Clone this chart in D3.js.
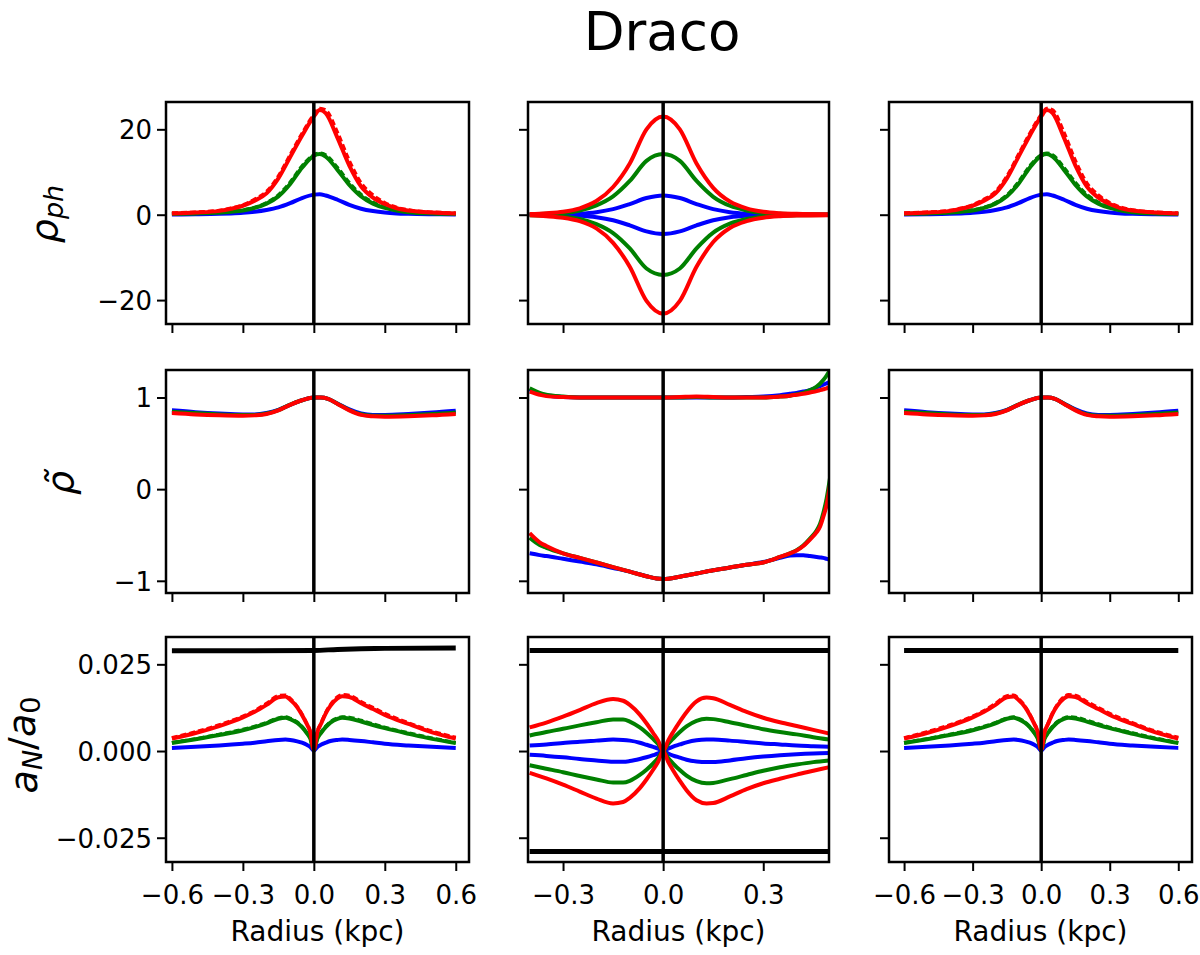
<!DOCTYPE html>
<html><head><meta charset="utf-8">
<script src="https://cdn.jsdelivr.net/npm/d3@7"></script>
<style>body{margin:0;background:#fff}svg{display:block}text{font-family:"DejaVu Sans",sans-serif;fill:#000}</style>
</head><body>
<svg id="c" width="1200" height="955"></svg>
<script>
// ---------------- DATA ----------------
const title = "Draco";
const xLabel = "Radius (kpc)";
const xTicksSide = [-0.6, -0.3, 0.0, 0.3, 0.6];
const xTicksMid = [-0.3, 0.0, 0.3];
const yTicksTop = [-20, 0, 20];
const yTicksMidRow = [-1, 0, 1];
const yTicksBot = [-0.025, 0.0, 0.025];

// Row 1 (rho_ph) side panels
const xTopSide = [-0.6,-0.5,-0.4,-0.35,-0.3,-0.25,-0.2,-0.15,-0.1,-0.05,0,0.025,0.05,0.1,0.15,0.2,0.25,0.3,0.35,0.4,0.5,0.6];
const topSideRed   = [0.3,0.5,0.9,1.4,2.1,3.3,5.0,8.5,13.5,18.5,23.0,24.5,23.8,18.0,11.5,6.6,4.0,2.5,1.5,1.0,0.5,0.3];
const topSideRedD  = [0.4,0.6,1.0,1.5,2.3,3.6,5.4,9.0,14.0,19.0,23.4,24.9,24.5,19.2,12.6,7.4,4.6,2.8,1.7,1.1,0.6,0.4];
const topSideGreen = [0.2,0.3,0.5,0.7,1.0,1.6,2.6,4.3,7.2,11.0,13.8,14.2,13.6,10.5,7.0,4.3,2.6,1.6,1.0,0.6,0.3,0.2];
const topSideGreenD= [0.2,0.3,0.5,0.8,1.1,1.7,2.8,4.6,7.6,11.4,14.0,14.4,14.0,11.0,7.5,4.7,2.9,1.8,1.1,0.7,0.35,0.2];
const topSideBlue  = [0.05,0.1,0.2,0.3,0.45,0.7,1.1,1.7,2.7,3.9,4.7,4.8,4.5,3.5,2.3,1.4,0.85,0.5,0.3,0.2,0.1,0.05];

// Row 1 middle panel
const xTopMid = [-0.4,-0.35,-0.3,-0.25,-0.2,-0.15,-0.1,-0.05,0,0.05,0.1,0.15,0.2,0.25,0.3,0.35,0.4,0.5];
const topMidRedUp   = [0.15,0.35,0.7,1.5,3.2,6.5,12.0,20.0,23.0,20.0,12.0,6.3,3.1,1.5,0.7,0.35,0.2,0.1];
const topMidGreenUp = [0.1,0.2,0.4,1.0,2.2,4.3,7.9,12.6,14.2,12.6,7.9,4.2,2.1,1.0,0.4,0.2,0.1,0.05];
const topMidBlueUp  = [0.02,0.05,0.1,0.25,0.6,1.3,2.5,3.9,4.5,3.9,2.5,1.3,0.6,0.25,0.1,0.05,0.02,0.01];
const topMidRedLo   = [-0.15,-0.35,-0.7,-1.5,-3.2,-6.6,-12.2,-20.2,-23.2,-20.2,-12.2,-6.4,-3.1,-1.5,-0.7,-0.35,-0.2,-0.1];
const topMidGreenLo = [-0.1,-0.2,-0.4,-1.0,-2.2,-4.3,-7.9,-12.6,-14.1,-12.6,-7.9,-4.2,-2.1,-1.0,-0.4,-0.2,-0.1,-0.05];
const topMidBlueLo  = [-0.02,-0.05,-0.1,-0.25,-0.6,-1.3,-2.5,-3.9,-4.5,-3.9,-2.5,-1.3,-0.6,-0.25,-0.1,-0.05,-0.02,-0.01];

// Row 2 (rho tilde) side panels
const xMidSide = [-0.6,-0.5,-0.4,-0.3,-0.25,-0.2,-0.15,-0.1,-0.05,0,0.03,0.06,0.1,0.15,0.2,0.25,0.3,0.4,0.5,0.6];
const midSideRed   = [0.83,0.815,0.805,0.80,0.805,0.82,0.86,0.92,0.97,1.0,1.0,0.985,0.93,0.86,0.81,0.795,0.79,0.795,0.805,0.82];
const midSideGreen = [0.845,0.83,0.815,0.808,0.81,0.825,0.862,0.922,0.97,1.0,1.0,0.985,0.932,0.864,0.817,0.802,0.80,0.807,0.82,0.835];
const midSideBlue  = [0.86,0.84,0.825,0.815,0.815,0.83,0.865,0.92,0.97,1.0,1.0,0.985,0.935,0.87,0.825,0.81,0.81,0.82,0.835,0.855];

// Row 2 middle panel
const xMidMid = [-0.4,-0.37,-0.35,-0.3,-0.25,-0.2,-0.15,-0.1,-0.05,-0.02,0,0.05,0.1,0.15,0.2,0.25,0.3,0.35,0.38,0.4,0.42,0.44,0.46,0.47,0.48,0.49,0.5];
const midMidRedUp   = [1.064,1.03,1.015,1.005,1.0,1.0,1.0,1.0,1.0,1.0,1.0,1.005,1.01,1.005,1.0,1.0,1.0,1.01,1.02,1.03,1.04,1.055,1.07,1.08,1.09,1.10,1.12];
const midMidGreenUp = [1.10,1.05,1.03,1.01,1.0,1.0,1.0,1.0,1.0,1.0,1.0,1.0,1.005,1.0,1.0,1.0,1.0,1.01,1.02,1.035,1.05,1.08,1.12,1.15,1.19,1.24,1.30];
const midMidBlueUp  = [1.09,1.04,1.025,1.005,1.0,1.0,1.0,1.0,1.0,1.0,1.0,1.0,1.0,1.0,1.0,1.005,1.01,1.025,1.04,1.05,1.065,1.08,1.11,1.125,1.14,1.155,1.17];
const midMidRedLo   = [-0.48,-0.58,-0.62,-0.70,-0.75,-0.80,-0.85,-0.90,-0.95,-0.975,-0.98,-0.955,-0.92,-0.885,-0.855,-0.825,-0.80,-0.74,-0.70,-0.67,-0.62,-0.55,-0.47,-0.41,-0.30,-0.17,0.05];
const midMidGreenLo = [-0.53,-0.61,-0.64,-0.70,-0.75,-0.80,-0.85,-0.90,-0.95,-0.975,-0.98,-0.955,-0.92,-0.885,-0.855,-0.825,-0.80,-0.74,-0.70,-0.665,-0.615,-0.54,-0.45,-0.38,-0.26,-0.10,0.12];
const midMidBlueLo  = [-0.70,-0.72,-0.73,-0.76,-0.79,-0.82,-0.86,-0.90,-0.95,-0.975,-0.98,-0.955,-0.92,-0.885,-0.855,-0.825,-0.795,-0.75,-0.725,-0.72,-0.72,-0.73,-0.74,-0.745,-0.75,-0.76,-0.77];

// Row 3 (a_N/a_0) side panels
const xBotSide = [-0.6,-0.5,-0.4,-0.3,-0.25,-0.2,-0.15,-0.12,-0.1,-0.07,-0.05,-0.03,-0.015,0,0.015,0.03,0.05,0.07,0.1,0.12,0.15,0.2,0.25,0.3,0.4,0.5,0.6];
const botSideRed   = [0.0036,0.0052,0.0072,0.0097,0.0113,0.0133,0.0155,0.0157,0.0148,0.0126,0.0104,0.0078,0.0055,0.0003,0.0055,0.0078,0.0108,0.0130,0.0152,0.0158,0.0156,0.0138,0.0121,0.0104,0.0078,0.0054,0.0036];
const botSideRedD  = [0.0038,0.0055,0.0075,0.0100,0.0116,0.0137,0.0159,0.0161,0.0151,0.0128,0.0106,0.0079,0.0056,0.0003,0.0056,0.0079,0.0110,0.0133,0.0156,0.0162,0.0160,0.0142,0.0125,0.0108,0.0081,0.0057,0.0039];
const botSideGreen = [0.0023,0.0034,0.0046,0.0060,0.0069,0.0080,0.0093,0.0096,0.0092,0.0081,0.0069,0.0052,0.0036,0.0002,0.0036,0.0052,0.0069,0.0082,0.0093,0.0096,0.0094,0.0085,0.0075,0.0066,0.0050,0.0035,0.0023];
const botSideGreenD= [0.0024,0.0035,0.0048,0.0062,0.0071,0.0082,0.0095,0.0098,0.0094,0.0083,0.0070,0.0053,0.0037,0.0002,0.0037,0.0053,0.0071,0.0084,0.0095,0.0098,0.0097,0.0088,0.0078,0.0068,0.0052,0.0037,0.0024];
const botSideBlue  = [0.0009,0.0012,0.0016,0.0021,0.0024,0.0028,0.0032,0.0033,0.0032,0.0028,0.0024,0.0018,0.0012,0.0001,0.0012,0.0018,0.0024,0.0029,0.0032,0.0033,0.0032,0.0029,0.0025,0.0021,0.0016,0.0012,0.0009];
const xBlackLeft = [-0.6,-0.3,0,0.1,0.2,0.3,0.6];
const blackLeft  = [0.0289,0.0289,0.0290,0.0293,0.0295,0.0296,0.0297];
const xBlackRight = [-0.6,0,0.6];
const blackRight  = [0.0290,0.0290,0.0290];

// Row 3 middle panel
const xBotMid = [-0.4,-0.35,-0.3,-0.25,-0.2,-0.15,-0.12,-0.1,-0.07,-0.05,-0.03,-0.015,0,0.015,0.03,0.05,0.07,0.1,0.13,0.15,0.2,0.25,0.3,0.35,0.4,0.45,0.5];
const botMidRedUp   = [0.0068,0.0082,0.0099,0.0118,0.0138,0.0150,0.0145,0.0133,0.0105,0.0080,0.0052,0.0030,0,0.0030,0.0055,0.0085,0.0112,0.0143,0.0154,0.0152,0.0133,0.0113,0.0096,0.0083,0.0072,0.0061,0.0050];
const botMidRedLo   = [-0.0063,-0.0079,-0.0097,-0.0117,-0.0137,-0.0151,-0.0147,-0.0135,-0.0107,-0.0082,-0.0054,-0.0031,0,-0.0031,-0.0056,-0.0086,-0.0113,-0.0142,-0.0151,-0.0150,-0.0131,-0.0110,-0.0093,-0.0080,-0.0068,-0.0057,-0.0046];
const botMidGreenUp = [0.0045,0.0055,0.0064,0.0074,0.0083,0.0091,0.0091,0.0085,0.0068,0.0053,0.0035,0.0020,0,0.0020,0.0036,0.0055,0.0071,0.0087,0.0093,0.0092,0.0083,0.0073,0.0063,0.0055,0.0048,0.0040,0.0033];
const botMidGreenLo = [-0.0041,-0.0051,-0.0061,-0.0072,-0.0082,-0.0091,-0.0091,-0.0086,-0.0069,-0.0054,-0.0036,-0.0020,0,-0.0020,-0.0036,-0.0055,-0.0071,-0.0087,-0.0093,-0.0092,-0.0081,-0.0069,-0.0057,-0.0047,-0.0039,-0.0032,-0.0027];
const botMidBlueUp  = [0.0016,0.0019,0.0023,0.0027,0.0030,0.0033,0.0032,0.0030,0.0024,0.0018,0.0012,0.0007,0,0.0007,0.0013,0.0019,0.0025,0.0031,0.0033,0.0033,0.0030,0.0026,0.0022,0.0019,0.0016,0.0014,0.0012];
const botMidBlueLo  = [-0.0011,-0.0014,-0.0018,-0.0023,-0.0027,-0.0031,-0.0031,-0.0029,-0.0023,-0.0018,-0.0012,-0.0007,0,-0.0007,-0.0013,-0.0019,-0.0025,-0.0030,-0.0032,-0.0032,-0.0027,-0.0021,-0.0016,-0.0012,-0.0009,-0.0007,-0.0006];
const xBlackMid = [-0.4,0.5];
const blackMidUp = [0.029,0.029];
const blackMidLo = [-0.029,-0.029];

// ---------------- LAYOUT ----------------
const RED = "#ff0000", GREEN = "#008000", BLUE = "#0000ff";
const TICK_FS = "26px";
const cols = [
  {x0:166, x1:469, dom:[-0.625,0.656], ticks:xTicksSide},
  {x0:528, x1:829, dom:[-0.405,0.497], ticks:xTicksMid},
  {x0:889, x1:1192, dom:[-0.666,0.66], ticks:xTicksSide}
];
const rows = [
  {y0:102, y1:324, dom:[-25.6,26.4], ticks:yTicksTop, fmt:d3.format("d")},
  {y0:370, y1:593, dom:[-1.133,1.30], ticks:yTicksMidRow, fmt:d3.format("d")},
  {y0:637, y1:862, dom:[-0.0320,0.03288], ticks:yTicksBot, fmt:d3.format(".3f")}
];
const zip = (xs, ys) => xs.map((x,i)=>[x, ys[i]]);
const S = (xs, ys, color, opt={}) => ({pts: zip(xs,ys), color, ...opt});

const panels = [
  [ [S(xTopSide,topSideBlue,BLUE),S(xTopSide,topSideGreen,GREEN),S(xTopSide,topSideGreenD,GREEN,{dash:true}),S(xTopSide,topSideRed,RED),S(xTopSide,topSideRedD,RED,{dash:true})],
    [S(xTopMid,topMidBlueUp,BLUE),S(xTopMid,topMidBlueLo,BLUE),S(xTopMid,topMidGreenUp,GREEN),S(xTopMid,topMidGreenLo,GREEN),S(xTopMid,topMidRedUp,RED),S(xTopMid,topMidRedLo,RED)],
    [S(xTopSide,topSideBlue,BLUE),S(xTopSide,topSideGreen,GREEN),S(xTopSide,topSideGreenD,GREEN,{dash:true}),S(xTopSide,topSideRed,RED),S(xTopSide,topSideRedD,RED,{dash:true})] ],
  [ [S(xMidSide,midSideBlue,BLUE),S(xMidSide,midSideGreen,GREEN),S(xMidSide,midSideRed,RED)],
    [S(xMidMid,midMidBlueUp,BLUE),S(xMidMid,midMidBlueLo,BLUE),S(xMidMid,midMidGreenUp,GREEN),S(xMidMid,midMidGreenLo,GREEN),S(xMidMid,midMidRedUp,RED),S(xMidMid,midMidRedLo,RED)],
    [S(xMidSide,midSideBlue,BLUE),S(xMidSide,midSideGreen,GREEN),S(xMidSide,midSideRed,RED)] ],
  [ [S(xBlackLeft,blackLeft,"#000",{w:5}),S(xBotSide,botSideBlue,BLUE),S(xBotSide,botSideGreen,GREEN),S(xBotSide,botSideGreenD,GREEN,{dash:true}),S(xBotSide,botSideRed,RED),S(xBotSide,botSideRedD,RED,{dash:true})],
    [S(xBlackMid,blackMidUp,"#000",{w:5}),S(xBlackMid,blackMidLo,"#000",{w:5}),S(xBotMid,botMidBlueUp,BLUE),S(xBotMid,botMidBlueLo,BLUE),S(xBotMid,botMidGreenUp,GREEN),S(xBotMid,botMidGreenLo,GREEN),S(xBotMid,botMidRedUp,RED),S(xBotMid,botMidRedLo,RED)],
    [S(xBlackRight,blackRight,"#000",{w:5}),S(xBotSide,botSideBlue,BLUE),S(xBotSide,botSideGreen,GREEN),S(xBotSide,botSideGreenD,GREEN,{dash:true}),S(xBotSide,botSideRed,RED),S(xBotSide,botSideRedD,RED,{dash:true})] ]
];

const svg = d3.select("#c");
svg.append("text").attr("x",662).attr("y",50).attr("text-anchor","middle")
  .style("font-size","53px").text(title);

const defs = svg.append("defs");
rows.forEach((r, ri) => {
  cols.forEach((c, ci) => {
    const x = d3.scaleLinear().domain(c.dom).range([c.x0, c.x1]);
    const y = d3.scaleLinear().domain(r.dom).range([r.y1, r.y0]);
    const id = `clip${ri}${ci}`;
    defs.append("clipPath").attr("id", id).append("rect")
      .attr("x", c.x0).attr("y", r.y0).attr("width", c.x1-c.x0).attr("height", r.y1-r.y0);
    const g = svg.append("g");
    const plot = g.append("g").attr("clip-path", `url(#${id})`);
    const line = d3.line().x(d=>x(d[0])).y(d=>y(d[1])).curve(d3.curveMonotoneX);
    panels[ri][ci].forEach(s => {
      plot.append("path").attr("d", line(s.pts)).attr("fill","none")
        .attr("stroke", s.color).attr("stroke-width", s.w || (s.dash ? 3.5 : 4))
        .attr("stroke-dasharray", s.dash ? "6,3" : null)
        .attr("stroke-linejoin","round");
    });
    plot.append("line").attr("x1", x(0)).attr("x2", x(0)).attr("y1", r.y0).attr("y2", r.y1)
      .attr("stroke","#000").attr("stroke-width",3.5);
    const xa = d3.axisBottom(x).tickValues(c.ticks).tickSizeOuter(0).tickSize(9).tickPadding(6)
      .tickFormat(ri === 2 ? d3.format(".1f") : "");
    const gx = g.append("g").attr("transform", `translate(0,${r.y1})`).call(xa);
    gx.select(".domain").remove();
    gx.selectAll(".tick line").attr("stroke","#000").attr("stroke-width",2);
    gx.selectAll(".tick text").style("font-size",TICK_FS).attr("fill","#000").attr("dy",null).attr("y",42);
    const ya = d3.axisLeft(y).tickValues(r.ticks).tickSizeOuter(0).tickSize(9).tickPadding(5)
      .tickFormat(ci === 0 ? r.fmt : "");
    const gy = g.append("g").attr("transform", `translate(${c.x0},0)`).call(ya);
    gy.select(".domain").remove();
    gy.selectAll(".tick line").attr("stroke","#000").attr("stroke-width",2);
    gy.selectAll(".tick text").style("font-size",TICK_FS).attr("fill","#000").attr("dy","0.36em");
    g.append("rect").attr("x", c.x0).attr("y", r.y0).attr("width", c.x1-c.x0).attr("height", r.y1-r.y0)
      .attr("fill","none").attr("stroke","#000").attr("stroke-width",2.5);
    if (ri === 2) {
      g.append("text").attr("x", (c.x0+c.x1)/2).attr("y", r.y1 + 79).attr("text-anchor","middle")
        .style("font-size","28px").attr("fill","#222").text(xLabel);
    }
  });
});

// y labels
const yl1 = svg.append("text").attr("transform","translate(57,214) rotate(-90)")
  .attr("text-anchor","middle").style("font-size","38px").style("font-style","italic");
yl1.append("tspan").text("ρ");
yl1.append("tspan").attr("dy","0.22em").style("font-size","27px").text("ph");

svg.append("text").attr("transform","translate(73,483) rotate(-90)")
  .attr("text-anchor","middle").style("font-size","38px").style("font-style","italic").text("ρ\u0303");

const yl3 = svg.append("text").attr("transform","translate(37,745) rotate(-90)")
  .attr("text-anchor","middle").style("font-size","38px").style("font-style","italic");
yl3.append("tspan").text("a");
yl3.append("tspan").attr("dy","0.2em").style("font-size","27px").text("N");
yl3.append("tspan").attr("dy","-0.2em").style("font-style","normal").text("/");
yl3.append("tspan").text("a");
yl3.append("tspan").attr("dy","0.2em").style("font-size","27px").style("font-style","normal").text("0");
</script>
</body></html>
